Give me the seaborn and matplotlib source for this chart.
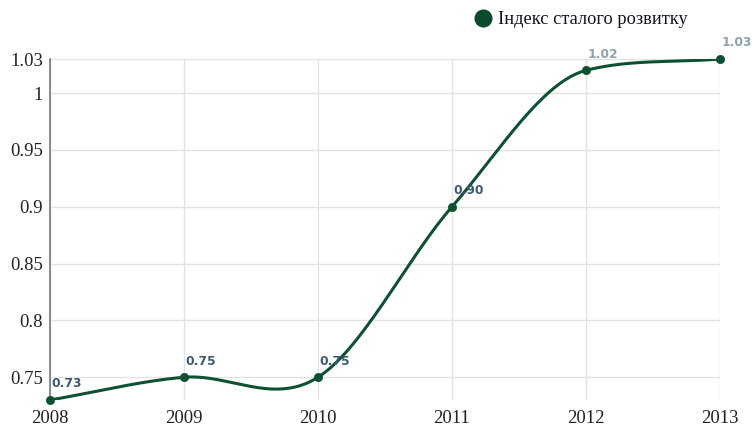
import numpy as np
import pandas as pd
import matplotlib
matplotlib.use("Agg")
import matplotlib.pyplot as plt
import seaborn as sns

years = [2008, 2009, 2010, 2011, 2012, 2013]
values = [0.73, 0.75, 0.75, 0.90, 1.02, 1.03]
labels = ["0.73", "0.75", "0.75", "0.90", "1.02", "1.03"]
series_name = "Індекс сталого розвитку"
yticks = [0.75, 0.8, 0.85, 0.9, 0.95, 1.0, 1.03]
ytick_labels = ["0.75", "0.8", "0.85", "0.9", "0.95", "1", "1.03"]

sns.set_theme(style="white")
plt.rcParams["font.family"] = ["Liberation Serif", "DejaVu Serif"]

# Catmull-Rom style smoothing with overshoot limiting, computed from the data
x = np.array(years, dtype=float)
y = np.array(values, dtype=float)
n = len(x)
m = np.zeros(n)
for i in range(n):
    if i == 0:
        m[i] = (y[1] - y[0]) / (x[1] - x[0])
    elif i == n - 1:
        m[i] = (y[-1] - y[-2]) / (x[-1] - x[-2])
    else:
        m[i] = (y[i + 1] - y[i - 1]) / (x[i + 1] - x[i - 1])
for i in range(n - 1):
    d = (y[i + 1] - y[i]) / (x[i + 1] - x[i])
    if d != 0:
        if m[i] / d > 3:
            m[i] = 3 * d
        if m[i + 1] / d > 3:
            m[i + 1] = 3 * d
xs, ys = [], []
for i in range(n - 1):
    t = np.linspace(0, 1, 60, endpoint=(i == n - 2))
    h = x[i + 1] - x[i]
    h00 = 2 * t**3 - 3 * t**2 + 1
    h10 = t**3 - 2 * t**2 + t
    h01 = -2 * t**3 + 3 * t**2
    h11 = t**3 - t**2
    xs.append(x[i] + t * h)
    ys.append(h00 * y[i] + h10 * h * m[i] + h01 * y[i + 1] + h11 * h * m[i + 1])
curve = pd.DataFrame({"year": np.concatenate(xs), "value": np.concatenate(ys)})
pts = pd.DataFrame({"year": years, "value": values})

fig = plt.figure(figsize=(7.52, 4.30), dpi=100)
ax = fig.add_axes([50 / 752, 1 - 400 / 430, 670 / 752, 341 / 430])

line_color = "#0e5132"
sns.lineplot(data=curve, x="year", y="value", ax=ax, color=line_color, lw=2.2, legend=False)
sns.scatterplot(data=pts, x="year", y="value", ax=ax, color=line_color, s=36,
                edgecolor=line_color, zorder=5, clip_on=False, legend=False)

ax.set_xlim(2008, 2013)
ax.set_ylim(0.73, 1.03)
ax.set_xticks(years)
ax.set_xticklabels([str(v) for v in years])
ax.set_yticks(yticks)
ax.set_yticklabels(ytick_labels)
ax.set_xlabel("")
ax.set_ylabel("")
ax.tick_params(axis="both", length=0, labelsize=13.5, colors="#222222")
ax.tick_params(axis="x", pad=7)
ax.tick_params(axis="y", pad=5)
ax.grid(True, color="#e2e2e2", lw=1)
for s in ["top", "right", "bottom"]:
    ax.spines[s].set_visible(False)
ax.spines["left"].set_color("#777777")
ax.spines["left"].set_linewidth(1.2)

for i, (xv, yv, lab) in enumerate(zip(years, values, labels)):
    col = "#3b5a75" if i < 4 else "#8fa0ae"
    ax.annotate(lab, (xv, yv), xytext=(1, 7), textcoords="offset points",
                ha="left", va="bottom", fontsize=8.8, fontweight="bold",
                family=["DejaVu Sans"], color=col, clip_on=False, zorder=6)

handle = plt.Line2D([], [], marker="o", linestyle="none", markersize=12,
                    color="#0b4a2c")
fig.legend([handle], [series_name], loc="center left",
           bbox_to_anchor=(463 / 752, 1 - 20 / 430), frameon=False,
           fontsize=13.2, handletextpad=0.2, borderpad=0, handlelength=1.2,
           labelcolor="#111122")

fig.savefig("out.png", dpi=100)
